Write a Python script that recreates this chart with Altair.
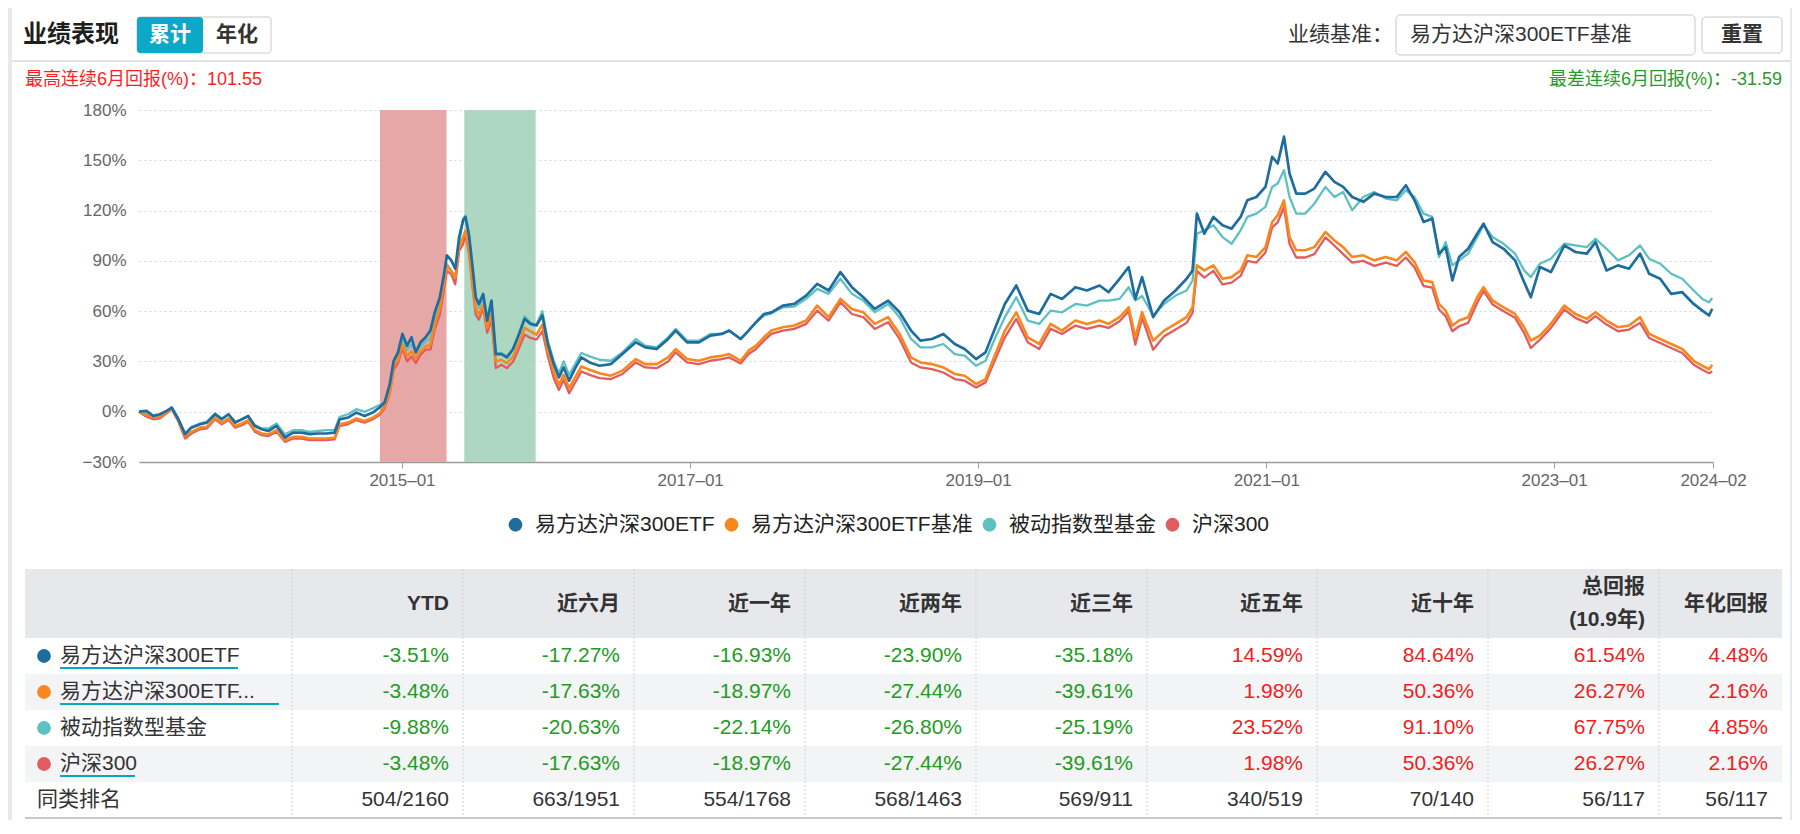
import altair as alt
import pandas as pd

# ---------------- data ----------------
dates = [
    "2013-03-05", "2013-03-24", "2013-04-10", "2013-04-27", "2013-05-14", "2013-05-27", "2013-06-13", "2013-06-30", "2013-07-16", "2013-08-07",
    "2013-08-24", "2013-09-14", "2013-10-01", "2013-10-18", "2013-11-04", "2013-11-21", "2013-12-07", "2013-12-24", "2014-01-10", "2014-01-27",
    "2014-02-17", "2014-03-10", "2014-03-31", "2014-04-21", "2014-05-12", "2014-06-02", "2014-06-23", "2014-07-14", "2014-07-27", "2014-08-17",
    "2014-09-07", "2014-09-28", "2014-10-19", "2014-11-05", "2014-11-18", "2014-12-01", "2014-12-11", "2014-12-22", "2015-01-02", "2015-01-14",
    "2015-01-25", "2015-02-05", "2015-02-17", "2015-03-02", "2015-03-14", "2015-03-25", "2015-04-07", "2015-04-17", "2015-04-25", "2015-05-06",
    "2015-05-16", "2015-05-26", "2015-06-05", "2015-06-11", "2015-06-20", "2015-06-29", "2015-07-07", "2015-07-15", "2015-07-26", "2015-08-05",
    "2015-08-16", "2015-08-27", "2015-09-10", "2015-09-24", "2015-10-10", "2015-10-25", "2015-11-08", "2015-11-23", "2015-12-08", "2015-12-23",
    "2016-01-06", "2016-01-21", "2016-02-03", "2016-02-15", "2016-02-29", "2016-03-14", "2016-03-31", "2016-04-21", "2016-05-16",
    "2016-06-14", "2016-07-13", "2016-08-16", "2016-09-09", "2016-10-08", "2016-11-06", "2016-11-25", "2016-12-24", "2017-01-23", "2017-02-21",
    "2017-03-22", "2017-04-10", "2017-05-09", "2017-05-29", "2017-06-17", "2017-07-07", "2017-07-26", "2017-08-24", "2017-09-22", "2017-10-22",
    "2017-11-19", "2017-12-18", "2018-01-17", "2018-02-15", "2018-03-16", "2018-04-14", "2018-05-18", "2018-06-16", "2018-07-15", "2018-08-08",
    "2018-09-06", "2018-10-05", "2018-11-03", "2018-11-28", "2018-12-27", "2019-01-20", "2019-02-14", "2019-03-10", "2019-04-08", "2019-05-07",
    "2019-06-05", "2019-07-04", "2019-08-02", "2019-09-05", "2019-10-04", "2019-11-05",
    "2019-11-28", "2019-12-26", "2020-01-18", "2020-02-04", "2020-02-21", "2020-03-20", "2020-04-17", "2020-05-16", "2020-06-13", "2020-06-28",
    "2020-07-09", "2020-07-28", "2020-08-20", "2020-09-12", "2020-10-05", "2020-10-28", "2020-11-14", "2020-12-07", "2020-12-30", "2021-01-16",
    "2021-01-30", "2021-02-15", "2021-03-01", "2021-03-18", "2021-04-10", "2021-05-03", "2021-05-31", "2021-06-23", "2021-07-15", "2021-08-07",
    "2021-09-04", "2021-10-02", "2021-10-31", "2021-11-28", "2021-12-21", "2022-01-12", "2022-02-04", "2022-02-26", "2022-03-15", "2022-04-01",
    "2022-04-18", "2022-05-05", "2022-05-28", "2022-06-20", "2022-07-06", "2022-07-29", "2022-08-26", "2022-09-24", "2022-10-17", "2022-11-03",
    "2022-11-26", "2022-12-24", "2023-01-27", "2023-02-24", "2023-03-25", "2023-04-16", "2023-05-14", "2023-06-12", "2023-07-10", "2023-08-07",
    "2023-08-30", "2023-09-27", "2023-10-25", "2023-11-22", "2023-12-21", "2024-01-12", "2024-01-29", "2024-02-06",
]

etf_300 = [
    0, 0.5, -2.5, -1.5, 0.5, 2.5, -4.5, -13.4, -9.5, -7.5,
    -6.5, -1.5, -4.5, -1.5, -6.5, -4.5, -2.5, -8.5, -10.5, -11.5,
    -8.5, -15.4, -12.5, -12.5, -13.4, -13, -13, -12.5, -4.5, -3.5,
    -0.5, -2.5, -0.5, 2.5, 5.5, 16.5, 30.4, 35.4, 46.4, 39.4,
    44.4, 35.4, 41.4, 44.4, 48.4, 59.3, 68.3, 81.3, 93.3, 90.3,
    85.3, 104.2, 114.2, 116.2, 105.2, 86.3, 68.3, 64.3, 70.3, 54.4,
    66.3, 34.4, 34.4, 32.4, 37.4, 46.4, 55.4, 52.4, 51.4, 57.4,
    40.4, 28.4, 20.5, 26.4, 18.5, 25.4, 32.4, 29.4, 27.4,
    28.4, 34.4, 41.4, 38.4, 37.4, 43.4, 48.4, 41.4, 41.4, 45.4,
    46.4, 48.4, 43.4, 48.4, 53.4, 58.3, 59.3, 63.3, 64.3, 69.3,
    76.3, 72.3, 83.3, 74.3, 68.3, 61.3, 66.3, 59.3, 48.4, 42.4,
    43.4, 46.4, 40.4, 37.4, 31.4, 35.4, 50.4, 64.3, 75.3, 60.3,
    58.3, 70.3, 67.3, 74.3, 72.3, 75.3,
    71.3, 79.3, 86.3, 67.3, 80.3, 56.4, 66.3, 72.3, 79.3, 84.3,
    118.2, 106.2, 116.2, 111.2, 109.2, 116.2, 126.1, 128.1, 134.1, 152.1,
    148.1, 164.1, 142.1, 130.1, 130.1, 133.1, 143.1, 137.1, 134.1, 128.1,
    125.2, 130.1, 128.1, 128.1, 135.1, 126.1, 113.2, 115.2, 94.2, 98.2,
    78.3, 92.3, 97.2, 106.2, 112.2, 101.2, 97.2, 90.3, 77.3, 68.3,
    86.3, 83.3, 99.2, 95.3, 94.3, 101.2, 84.3, 87.3, 85.3, 94.3,
    82.3, 79.3, 70.3, 71.3, 64.3, 60.3, 57.4, 61.4,
]

etf_bench = [
    0, -2, -3.5, -3, -0.5, 2, -5, -14.5, -12, -9.5,
    -9, -3.5, -6.5, -4, -8.5, -7, -5, -11, -13, -13.5,
    -11, -17, -15, -15, -16, -16, -16, -15.5, -7.5, -6.5,
    -4, -5.5, -3.5, -1, 3, 12, 27, 31, 40, 33,
    36, 32, 36, 39, 40, 52, 62, 76, 87, 84,
    80, 98, 104, 108, 96, 76, 62, 58, 64, 50,
    58, 30, 31, 29, 33, 41, 50, 48, 46, 52,
    36, 24, 16, 22, 14, 20, 27, 25, 23,
    21.5, 24.5, 31.4, 28.4, 28.4, 32.4, 37.4, 31.4, 30.4, 32.4,
    33.4, 34.4, 30.4, 36.4, 39.4, 44.4, 48.4, 50.4, 51.4, 54.4,
    63.3, 56.4, 67.3, 61.3, 59.3, 52.4, 56.4, 46.4, 32.4, 29.4,
    28.4, 26.4, 22.5, 21.5, 16.5, 19.5, 34.4, 48.4, 59.3, 44.4,
    40.4, 52.4, 48.4, 54.4, 52.4, 54.4,
    52.4, 56.4, 62.3, 44.4, 59.3, 42.4, 48.4, 52.4, 56.4, 62.3,
    87.3, 84.3, 87.3, 79.3, 80.3, 84.3, 93.3, 92.3, 98.2, 113.2,
    117.2, 126.1, 104.2, 96.3, 96.3, 98.2, 107.2, 102.2, 98.2, 92.3,
    93.3, 90.3, 92.3, 90.3, 95.3, 89.3, 78.3, 77.3, 64.3, 60.3,
    51.4, 54.4, 56.4, 68.3, 74.3, 66.3, 62.3, 58.3, 50.4, 42.4,
    45.4, 52.4, 63.3, 58.3, 55.4, 59.3, 54.4, 50.4, 51.4, 56.4,
    46.4, 43.4, 40.4, 37.4, 30.4, 27.4, 25.4, 28,
]

passive_index = [
    0, -1, -3, -2, 0, 2, -5, -13, -9, -7,
    -6, -1, -4, -1.5, -6, -4.5, -3, -8, -10, -10,
    -7, -13.5, -11, -11, -12, -11.5, -11, -11, -3, -1.5,
    1.5, 0, 2, 4, 6, 15, 30, 34, 43, 37,
    40, 36, 39, 42, 44, 55, 64, 78, 88, 84,
    80, 100, 115, 117, 106, 84, 68, 62, 68, 52,
    64, 35, 35, 33, 38, 47, 57, 53, 52, 60,
    42, 30, 23, 30, 22, 28, 35, 33, 31,
    30.4, 35.4, 43.4, 39.4, 38.4, 44.4, 49.4, 42.4, 42.4, 46.4,
    46.4, 48.4, 43.4, 48.4, 53.4, 57.3, 58.7, 62.3, 62.7, 67.3,
    73.3, 70.3, 79.3, 70.3, 66.3, 59.3, 64.3, 56.4, 43.4, 38.4,
    38.4, 40.4, 34.4, 33.4, 27.4, 30.4, 44.4, 56.4, 68.3, 54.4,
    52.4, 60.3, 59.3, 64.3, 63.3, 66.3,
    66.3, 67.3, 74.3, 66.3, 69, 57.4, 64.3, 69.3, 72.3, 78.3,
    106.2, 108.2, 111.2, 104.2, 100.2, 108.2, 116.2, 118.2, 122.2, 134.1,
    136.1, 144.1, 128.1, 118.2, 118.2, 124.1, 134.1, 128.1, 131.1, 120.2,
    128.1, 131.1, 127.2, 126.1, 132.1, 128.1, 118.2, 116.2, 92.3, 101.2,
    87.3, 90.3, 94.3, 104.2, 111.2, 104.2, 100.2, 94.3, 84.3, 80.3,
    88.3, 91.3, 100.2, 99.2, 98.2, 103.2, 97.2, 90.3, 93.3, 99.2,
    91.3, 88.3, 82.3, 79.3, 72.3, 67.3, 65.3, 67.9,
]

csi_300 = [
    0, -3, -4.5, -4, -1, 1.5, -6, -16, -13, -10.5,
    -10, -4.5, -7.5, -5, -9.5, -8, -6, -12, -14, -14.5,
    -12, -18, -16, -16, -17, -17, -17, -16.5, -8.5, -7.5,
    -5, -6.5, -4.5, -2, 2, 11, 25, 29, 38, 30,
    33, 29, 34, 37, 37, 49, 58, 72, 84, 82,
    76, 96, 100, 106, 94, 74, 58, 55, 62, 47,
    55, 26, 28, 26, 30, 38, 46, 44, 43, 48,
    33, 20, 13, 19, 11, 17, 24, 22, 20,
    19.5, 22.5, 29.4, 26.4, 26, 30, 35.4, 29.4, 28.4, 30.4,
    31.4, 32.4, 28.8, 34.4, 37.4, 42.4, 46.4, 48.4, 49.4, 52.4,
    60.3, 54.4, 65.3, 58.3, 56.4, 49.4, 53.4, 43.4, 29.4, 26.4,
    25.4, 23.4, 19.5, 18.5, 14.5, 17.5, 31.4, 44.4, 55.4, 41.4,
    37.4, 49.4, 46.4, 51.4, 49.4, 51.4,
    50, 54, 60, 40, 56, 37, 45, 49, 53, 59,
    84, 80, 84, 76, 77, 81, 90, 89, 95, 110,
    113, 122, 100, 92, 92, 94, 104, 99, 94, 89,
    90, 87, 89, 87, 92, 86, 75, 74, 61, 57,
    48, 51, 53, 65, 72, 64, 60, 56, 47, 38,
    43, 50, 61, 56, 53, 57, 52, 48, 49, 53,
    44, 41, 38, 35, 28, 25, 23, 24,
]

series_names = ["易方达沪深300ETF", "易方达沪深300ETF基准", "被动指数型基金", "沪深300"]

shade_start = ["2014-11-06", "2015-06-08"]
shade_end = ["2015-04-24", "2015-12-06"]
shade_kind = ["best", "worst"]

x_tick_dates = ["2015-01-01", "2017-01-01", "2019-01-01", "2021-01-01", "2023-01-01", "2024-02-08"]
x_domain = ["2013-03-05", "2024-02-08"]
y_ticks = [-30, 0, 30, 60, 90, 120, 150, 180]

table_cols = ["YTD", "近六月", "近一年", "近两年", "近三年", "近五年", "近十年", "总回报\n(10.9年)", "年化回报"]
ret_etf = [-3.51, -17.27, -16.93, -23.90, -35.18, 14.59, 84.64, 61.54, 4.48]
ret_bench = [-3.48, -17.63, -18.97, -27.44, -39.61, 1.98, 50.36, 26.27, 2.16]
ret_passive = [-9.88, -20.63, -22.14, -26.80, -25.19, 23.52, 91.10, 67.75, 4.85]
ret_csi = [-3.48, -17.63, -18.97, -27.44, -39.61, 1.98, 50.36, 26.27, 2.16]
rank_label = "同类排名"
rank_row = ["504/2160", "663/1951", "554/1768", "568/1463", "569/911", "340/519", "70/140", "56/117", "56/117"]

best_label = "最高连续6月回报(%)：101.55"
worst_label = "最差连续6月回报(%)：-31.59"

# ---------------- styling / layout ----------------
FONT = "Liberation Sans, Noto Sans CJK SC, sans-serif"
COLORS = ["#1f6d9e", "#f7871e", "#5dc0c1", "#e25c5e"]
LINE_W = [2.7, 2.6, 2.3, 2.3]
GREEN = "#239b23"
RED = "#f21d1d"
DOT_SIZE = 190
HEAD_LINE_H = 33

OX, OY = 139, 110          # page position of the plot origin
W, H = 1574, 352            # plot area


def px(X):
    return X - OX


def py(Y):
    return Y - OY


for arr in (etf_300, etf_bench, passive_index, csi_300):
    assert len(arr) == len(dates), len(arr)

one = pd.DataFrame({"k": [0]})


def box(x1, y1, x2, y2, **kw):
    return alt.Chart(one).mark_rect(**kw).encode(
        x=alt.value(px(x1)), x2=alt.value(px(x2)), y=alt.value(py(y1)), y2=alt.value(py(y2)))


def label(text, X, Y, **kw):
    kw.setdefault("font", FONT)
    kw.setdefault("baseline", "middle")
    return alt.Chart(one).mark_text(text=text, **kw).encode(x=alt.value(px(X)), y=alt.value(py(Y)))


def hline(x1, x2, Y, **kw):
    return alt.Chart(one).mark_rule(**kw).encode(
        x=alt.value(px(x1)), x2=alt.value(px(x2)), y=alt.value(py(Y)))


def dt(s):
    d = pd.Timestamp(s)
    return alt.DateTime(year=d.year, month=d.month, date=d.day)


layers = []

# ---- page gutters and header ----
layers += [
    box(8, 8, 12, 822, color="#e8e9ec"),
    box(1790, 8, 1792, 822, color="#e8e9ec"),
    label("业绩表现", 23, 35, fontSize=24, fontWeight="bold", color="#1e1e1e", align="left"),
    box(137, 17, 271, 53, fill="white", stroke="#c9c9c9", strokeWidth=1, cornerRadius=3),
    box(137, 17, 203, 53, color="#0da8c7", cornerRadius=3),
    label("累计", 170, 35, fontSize=21, fontWeight="bold", color="white", align="center"),
    label("年化", 237, 35, fontSize=21, fontWeight="bold", color="#333333", align="center"),
    label("业绩基准：", 1393, 35, fontSize=21, color="#333333", align="right"),
    box(1396, 15, 1695, 55, fill="white", stroke="#c8c8c8", strokeWidth=1, cornerRadius=4),
    label(series_names[1], 1410, 35, fontSize=21, color="#333333", align="left"),
    box(1702, 17, 1782, 53, fill="white", stroke="#c8c8c8", strokeWidth=1, cornerRadius=4),
    label("重置", 1742, 35, fontSize=21, fontWeight="bold", color="#333333", align="center"),
    hline(12, 1790, 61, color="#d9d9d9", strokeWidth=1.5),
    label(best_label, 25, 80, fontSize=18, color="#ff1e1e", align="left"),
    label(worst_label, 1782, 80, fontSize=18, color="#2a9a2a", align="right"),
]

# ---- line chart ----
xscale = alt.Scale(domain=[dt(d) for d in x_domain])
yscale = alt.Scale(domain=[y_ticks[0], y_ticks[-1]], nice=False, zero=False)

x_axis = alt.Axis(
    values=[dt(d) for d in x_tick_dates],
    labelExpr="timeFormat(datum.value, '%Y–%m')",
    grid=False, domainColor="#9c9c9c", domainWidth=1.5, tickColor="#9c9c9c", tickSize=6,
    labelFont=FONT, labelFontSize=17, labelColor="#666666", labelPadding=4,
    labelFlush=False, labelOverlap=False,
)
y_axis = alt.Axis(
    values=y_ticks, labelExpr="format(datum.value, 'd') + '%'",
    grid=True, gridColor="#d4d4d4", gridDash=[2, 3], gridWidth=1,
    domain=False, ticks=False, labelPadding=13,
    labelFont=FONT, labelFontSize=17, labelColor="#666666",
)

shade_df = pd.DataFrame({"start": pd.to_datetime(shade_start), "end": pd.to_datetime(shade_end), "kind": shade_kind})
layers.append(
    alt.Chart(shade_df).mark_rect().encode(
        x=alt.X("start:T", scale=xscale, axis=None, title=None),
        x2="end:T",
        y=alt.value(0), y2=alt.value(H),
        fill=alt.condition("datum.kind == 'best'", alt.value("#e6a8a6"), alt.value("#add7c0")),
    )
)

series_vals = [etf_300, etf_bench, passive_index, csi_300]
draw_order = [3, 2, 1, 0]
for k, i in enumerate(draw_order):
    df = pd.DataFrame({"date": pd.to_datetime(dates), "value": series_vals[i]})
    layers.append(
        alt.Chart(df).mark_line(color=COLORS[i], strokeWidth=LINE_W[i], strokeJoin="round").encode(
            x=alt.X("date:T", scale=xscale, axis=x_axis if k == 0 else None, title=None),
            y=alt.Y("value:Q", scale=yscale, axis=y_axis if k == 0 else None, title=None),
        )
    )

# ---- table ----
TABLE_EDGES = [25, 292, 463, 634, 805, 976, 1147, 1317, 1488, 1659, 1782]
bscale = alt.Scale(domain=list(range(len(TABLE_EDGES))), range=[px(v) for v in TABLE_EDGES], zero=False, nice=False)
ROW0, ROW_H = 656, 36
rscale = alt.Scale(domain=[0, 4], range=[py(ROW0), py(ROW0 + 4 * ROW_H)], zero=False, nice=False)
HEAD_TOP, HEAD_BOT, TABLE_BOT = 569, 638, 818

layers.append(box(25, HEAD_TOP, 1782, HEAD_BOT, color="#e7e8eb"))

stripe_df = pd.DataFrame({"ri": [1, 3]})
layers.append(
    alt.Chart(stripe_df).transform_calculate(y0="datum.ri - 0.5", y1="datum.ri + 0.5").mark_rect(color="#f3f4f6").encode(
        x=alt.value(px(25)), x2=alt.value(px(1782)),
        y=alt.Y("y0:Q", scale=rscale, axis=None, title=None), y2="y1:Q",
    )
)

sep_df = pd.DataFrame({"b": list(range(1, len(TABLE_EDGES) - 1))})
layers.append(
    alt.Chart(sep_df).mark_rule(color="#cfcfcf", strokeDash=[2, 2], strokeWidth=1).encode(
        x=alt.X("b:Q", scale=bscale, axis=None, title=None),
        y=alt.value(py(HEAD_TOP)), y2=alt.value(py(TABLE_BOT)),
    )
)
layers.append(hline(25, 1782, TABLE_BOT, color="#c9c9c9", strokeWidth=2))

head_df = pd.DataFrame({"b": [i + 2 for i in range(len(table_cols))], "text": table_cols})
head_df["lines"] = head_df["text"].str.count("\n") + 1
head_mid = (HEAD_TOP + HEAD_BOT) / 2
layers.append(
    alt.Chart(head_df).transform_calculate(
        # shift multi-line labels up so that the whole block is centred in the header row
        hy=f"{py(head_mid)} - (datum.lines - 1) * {HEAD_LINE_H} / 2"
    ).mark_text(
        align="right", baseline="middle", dx=-14, font=FONT, fontSize=21, fontWeight="bold",
        color="#333333", lineBreak="\n", lineHeight=HEAD_LINE_H,
    ).encode(
        x=alt.X("b:Q", scale=bscale, axis=None, title=None),
        y=alt.Y("hy:Q", scale=None, axis=None, title=None),
        text="text:N",
    )
)

cells = []
for ri, vals in enumerate([ret_etf, ret_bench, ret_passive, ret_csi]):
    for ci, v in enumerate(vals):
        cells.append({"ri": ri, "b": ci + 2, "text": f"{v:.2f}%", "tone": "neg" if v < 0 else "pos"})
for ci, t in enumerate(rank_row):
    cells.append({"ri": 4, "b": ci + 2, "text": t, "tone": "plain"})
cell_df = pd.DataFrame(cells)
layers.append(
    alt.Chart(cell_df).mark_text(align="right", baseline="middle", dx=-14, font=FONT, fontSize=21).encode(
        x=alt.X("b:Q", scale=bscale, axis=None, title=None),
        y=alt.Y("ri:Q", scale=rscale, axis=None, title=None),
        text="text:N",
        fill=alt.Fill("tone:N", scale=alt.Scale(domain=["neg", "pos", "plain"], range=[GREEN, RED, "#333333"]), legend=None),
    )
)

name_df = pd.DataFrame({"ri": list(range(len(series_names))), "b": 0, "series": series_names})
layers.append(
    alt.Chart(name_df).mark_text(
        align="left", baseline="middle", dx=35, font=FONT, fontSize=21, color="#333333", limit=205, ellipsis="...",
    ).encode(
        x=alt.X("b:Q", scale=bscale, axis=None, title=None),
        y=alt.Y("ri:Q", scale=rscale, axis=None, title=None),
        text="series:N",
    )
)
rank_df = pd.DataFrame({"ri": [4], "b": [0], "text": [rank_label]})
layers.append(
    alt.Chart(rank_df).mark_text(align="left", baseline="middle", dx=12, font=FONT, fontSize=21, color="#333333").encode(
        x=alt.X("b:Q", scale=bscale, axis=None, title=None),
        y=alt.Y("ri:Q", scale=rscale, axis=None, title=None),
        text="text:N",
    )
)

# underlines of the linked names
for Y, x_end in [(668, 238), (704, 279), (776, 135)]:
    layers.append(hline(60, x_end, Y, color="#0aa6c6", strokeWidth=2))

legend = alt.Legend(
    orient="none", legendX=366, legendY=404, direction="horizontal", title=None,
    symbolType="circle", symbolSize=DOT_SIZE, symbolStrokeWidth=0,
    labelFont=FONT, labelFontSize=21, labelColor="#222222", labelOffset=9,
    columnPadding=6, padding=0, labelLimit=400,
)
layers.append(
    alt.Chart(name_df).mark_circle(size=DOT_SIZE, opacity=1, xOffset=19).encode(
        x=alt.X("b:Q", scale=bscale, axis=None, title=None),
        y=alt.Y("ri:Q", scale=rscale, axis=None, title=None),
        color=alt.Color("series:N", scale=alt.Scale(domain=series_names, range=COLORS), legend=legend),
    )
)

chart = (
    alt.layer(*layers)
    .resolve_scale(x="independent", y="independent")
    .properties(
        width=W, height=H,
        autosize=alt.AutoSizeParams(type="none"),
        padding={"left": 131, "top": 102, "right": 79, "bottom": 358},
        background="white",
    )
    .configure_view(stroke=None)
)

chart.save("out.html", embed_options={"renderer": "svg", "actions": False})
